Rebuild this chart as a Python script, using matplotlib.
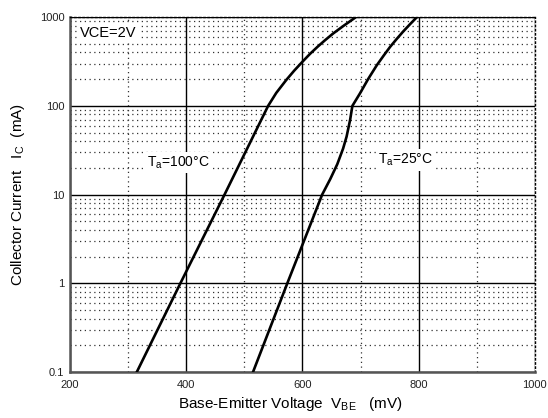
import matplotlib
matplotlib.use("Agg")
import matplotlib.pyplot as plt

plt.rcParams['font.family'] = ['Liberation Sans', 'DejaVu Sans']
plt.rcParams['mathtext.fontset'] = 'custom'
plt.rcParams['mathtext.rm'] = 'Liberation Sans'

# Ta = 100 C curve (VBE in mV, IC in mA)
vbe_100 = [315, 390, 466, 541, 555, 572, 586, 600, 613, 626, 639, 653, 671, 692]
ic_100 = [0.1, 1, 10, 100, 140, 195, 250, 314, 385, 463, 550, 655, 800, 1000]

# Ta = 25 C curve
vbe_25 = [515, 574, 634, 648, 660, 670, 676, 682, 686, 699, 713, 728, 740, 751, 762, 773, 785, 797]
ic_25 = [0.1, 1, 10, 15, 22, 33, 45, 69, 100, 138, 200, 287, 370, 463, 565, 684, 830, 1000]

x_ticks = [200, 400, 600, 800, 1000]
y_ticks = [0.1, 1, 10, 100, 1000]
y_labels = ["0.1", "1", "10", "100", "1000"]

fig = plt.figure(figsize=(5.48, 4.18), dpi=100)
ax = fig.add_axes([0.1277, 0.110, 0.8483, 0.849])

ax.set_xlim(200, 1000)
ax.set_yscale("log")
ax.set_ylim(0.1, 1000)

ax.set_xticks(x_ticks)
ax.set_xticks([300, 500, 700, 900], minor=True)
ax.set_yticks(y_ticks)
ax.set_yticklabels(y_labels)
ax.tick_params(which="both", length=0, labelsize=8, colors="#222222")
ax.tick_params(axis="x", pad=6)
ax.tick_params(axis="y", pad=4)

ax.grid(which="major", color="black", linewidth=1.0, linestyle="-")
ax.grid(which="minor", color="#333333", linewidth=0.9, linestyle=(0, (1, 2.8)))

ax.plot(vbe_100, ic_100, color="black", linewidth=1.9, zorder=3)
ax.plot(vbe_25, ic_25, color="black", linewidth=1.9, zorder=3)

for side in ["left", "bottom"]:
    ax.spines[side].set_color("#555555")
    ax.spines[side].set_linewidth(1.8)
for side in ["top", "right"]:
    ax.spines[side].set_linestyle((0, (1, 2)))
    ax.spines[side].set_linewidth(1.0)

box = dict(facecolor="white", edgecolor="none", pad=2)
ax.text(217, 660, "VCE=2V", fontsize=10.5, va="center", ha="left", bbox=box, zorder=4)
ax.text(386, 23, r"T$_{\mathrm{a}}$=100°C", fontsize=10, va="center", ha="center", bbox=box, zorder=4)
ax.text(778, 24.7, r"T$_{\mathrm{a}}$=25°C", fontsize=10, va="center", ha="center", bbox=box, zorder=4)

ax.set_xlabel(r"Base-Emitter Voltage  V$_{\mathrm{BE}}$   (mV)", fontsize=11, labelpad=3)
ax.xaxis.set_label_coords(0.473, -0.065)
ax.set_ylabel(r"Collector Current   I$_{\mathrm{C}}$  (mA)", fontsize=11, labelpad=9)

fig.savefig("out.png", dpi=100)
